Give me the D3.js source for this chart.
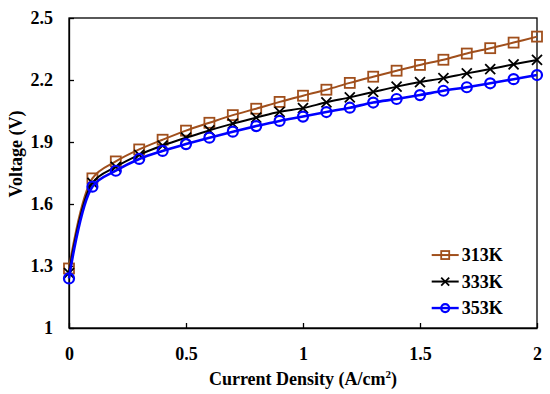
<!DOCTYPE html>
<html>
<head>
<meta charset="utf-8">
<script src="https://cdn.jsdelivr.net/npm/d3@7"></script>
<style>
  body { margin: 0; background: #fff; }
  svg text { font-family: "Liberation Serif", "Times New Roman", Times, serif; font-weight: bold; fill: #000; }
</style>
</head>
<body>
<div id="chart"></div>
<script>
// current density (A/cm2)
const current = [0, 0.1, 0.2, 0.3, 0.4, 0.5, 0.6, 0.7, 0.8, 0.9, 1.0,
    1.1, 1.2, 1.3, 1.4, 1.5, 1.6, 1.7, 1.8, 1.9, 2.0];
// voltage (V) per temperature
const v313 = [1.288, 1.724, 1.806, 1.864, 1.911, 1.955, 1.993, 2.030, 2.061, 2.094, 2.124,
    2.153, 2.186, 2.216, 2.245, 2.273, 2.298, 2.328, 2.354, 2.381, 2.410];
const v333 = [1.265, 1.702, 1.780, 1.838, 1.883, 1.921, 1.956, 1.989, 2.018, 2.046, 2.064,
    2.092, 2.116, 2.142, 2.168, 2.190, 2.209, 2.232, 2.253, 2.276, 2.297];
const v353 = [1.240, 1.684, 1.761, 1.818, 1.857, 1.890, 1.921, 1.950, 1.977, 2.002, 2.023,
    2.045, 2.066, 2.091, 2.108, 2.127, 2.148, 2.165, 2.184, 2.204, 2.224];

const seriesNames = ["313K", "333K", "353K"];
const seriesColors = ["#a04f1c", "#000000", "#0000ff"];
const seriesMarkers = ["square", "cross", "circle"];

const xTicks = [0, 0.5, 1, 1.5, 2];
const yTicks = [1, 1.3, 1.6, 1.9, 2.2, 2.5];

const series = [v313, v333, v353].map((vals, i) => ({
    name: seriesNames[i],
    color: seriesColors[i],
    marker: seriesMarkers[i],
    points: vals.map((v, j) => ({ x: current[j], y: v }))
}));

const W = 550, H = 394;
const margin = { top: 18, right: 13, bottom: 66, left: 69 };
const width = W - margin.left - margin.right,
    height = H - margin.top - margin.bottom;
const serif = "'Liberation Serif', 'Times New Roman', Times, serif";

const svg = d3.select("#chart").append("svg")
    .attr("width", W)
    .attr("height", H);
const g = svg.append("g")
    .attr("transform", "translate(" + margin.left + "," + margin.top + ")");

const x = d3.scaleLinear().domain([0, 2]).range([0, width]);
const y = d3.scaleLinear().domain([1, 2.5]).range([height, 0]);

// frame
g.append("rect")
    .attr("width", width)
    .attr("height", height)
    .attr("fill", "none")
    .attr("stroke", "#000")
    .attr("stroke-width", 1.3);

// axes with inside ticks
const xAxis = g.append("g")
    .attr("font-family", serif)
    .attr("transform", "translate(0," + height + ")")
    .call(d3.axisBottom(x).tickValues(xTicks).tickSizeInner(-5).tickSizeOuter(0).tickPadding(16)
        .tickFormat(d => d3.format("")(d)));
const yAxis = g.append("g")
    .attr("font-family", serif)
    .call(d3.axisLeft(y).tickValues(yTicks).tickSizeInner(-5).tickSizeOuter(0).tickPadding(16)
        .tickFormat(d => d3.format("")(d)));
[xAxis, yAxis].forEach(a => {
    a.attr("font-family", serif).attr("font-size", 18).attr("font-weight", "bold");
    a.select(".domain").attr("stroke", "#000").attr("stroke-width", 1.3);
    a.selectAll(".tick line").attr("stroke", "#000").attr("stroke-width", 1.3);
    a.selectAll("text")
        .style("font-family", serif)
        .style("font-weight", "bold")
        .style("font-size", "18px")
        .attr("fill", "#000");
});
xAxis.selectAll("text").attr("dy", "0.9em");

const line = d3.line()
    .x(d => x(d.x))
    .y(d => y(d.y))
    .curve(d3.curveCatmullRom.alpha(0.5));

function drawMarker(sel, type, color, k) {
    const s = 5 * k;
    if (type === "square") {
        sel.append("rect")
            .attr("x", -s).attr("y", -s)
            .attr("width", 2 * s).attr("height", 2 * s)
            .attr("fill", "none").attr("stroke", color).attr("stroke-width", 1.8);
    } else if (type === "circle") {
        sel.append("circle")
            .attr("r", s)
            .attr("fill", "none").attr("stroke", color).attr("stroke-width", 2.2);
    } else {
        sel.append("path")
            .attr("d", "M" + -s + "," + -s + "L" + s + "," + s + "M" + -s + "," + s + "L" + s + "," + -s)
            .attr("fill", "none").attr("stroke", color).attr("stroke-width", 1.8);
    }
}

series.forEach(s => {
    const sg = g.append("g");
    sg.append("path")
        .datum(s.points)
        .attr("d", line)
        .attr("fill", "none")
        .attr("stroke", s.color)
        .attr("stroke-width", s.marker === "circle" ? 2.6 : 2);
    sg.selectAll(".pt")
        .data(s.points)
        .enter().append("g")
        .attr("transform", d => "translate(" + x(d.x) + "," + y(d.y) + ")")
        .each(function () { drawMarker(d3.select(this), s.marker, s.color, 1); });
});

// legend
const legend = g.append("g")
    .attr("transform", "translate(" + x(1.55) + "," + y(1.353) + ")");
series.forEach((s, i) => {
    const row = legend.append("g").attr("transform", "translate(0," + (i * 26.5) + ")");
    row.append("line")
        .attr("x1", 0).attr("x2", 27)
        .attr("stroke", s.color).attr("stroke-width", s.marker === "circle" ? 2.4 : 2);
    const m = row.append("g").attr("transform", "translate(13.5,0)");
    drawMarker(m, s.marker, s.color, 0.8);
    row.append("text")
        .attr("x", 30)
        .attr("dy", "0.35em")
        .style("font-family", serif)
        .style("font-size", "18px")
        .text(s.name);
});

// axis titles
svg.append("text")
    .attr("x", margin.left + width / 2)
    .attr("y", 385)
    .attr("text-anchor", "middle")
    .style("font-family", serif)
    .style("font-size", "18px")
    .html("Current Density (A/cm<tspan dy='-7' font-size='11px'>2</tspan><tspan dy='7'>)</tspan>");

svg.append("text")
    .attr("transform", "translate(22,154) rotate(-90)")
    .attr("text-anchor", "middle")
    .style("font-family", serif)
    .style("font-size", "18px")
    .text("Voltage (V)");
</script>
</body>
</html>
